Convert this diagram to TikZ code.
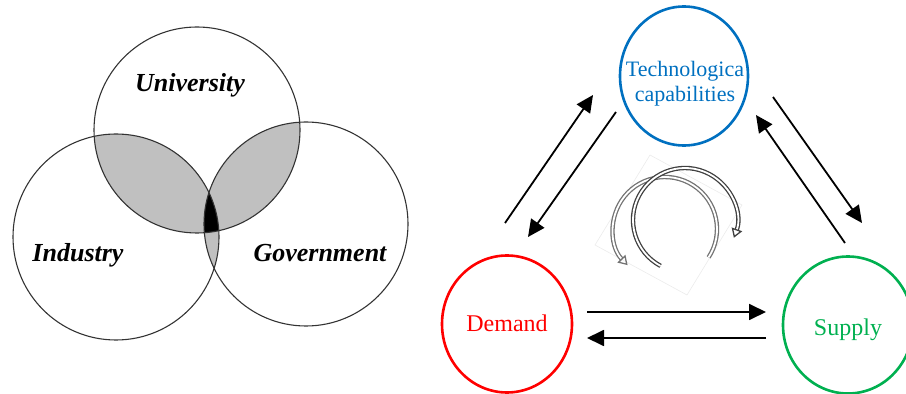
\documentclass[tikz,border=0pt]{standalone}
\usepackage{fontspec}
\setmainfont{Liberation Serif}
\usetikzlibrary{arrows.meta,shapes.geometric}
\definecolor{techblue}{RGB}{0,112,192}
\definecolor{demred}{RGB}{255,0,0}
\definecolor{supgreen}{RGB}{0,176,80}
\definecolor{venngray}{RGB}{192,192,192}
\tikzset{
	venn/.style={draw=black!80,line width=1.1pt},
	sector/.style={ellipse,line width=2.6pt,minimum width=130pt,minimum height=137pt,inner sep=0pt},
	flow/.style={line width=1.8pt,-{Triangle[length=17pt,width=16pt]}},
	turn/.style={double=white,double distance=1.8pt,line width=1.3pt,-{Triangle[open,length=9pt,width=11pt]}},
	actor/.style={font=\fontsize{26}{30}\selectfont\bfseries\itshape,anchor=base}
}
\begin{document}
\begin{tikzpicture}[x=1pt,y=1pt,line join=round]
	\useasboundingbox (0,0) rectangle (906,394);
	\coordinate (U) at (197,264);
	\coordinate (I) at (116,157);
	\coordinate (G) at (306,170);
\begin{scope}
	\clip (U) circle[radius=103pt];
	\fill[venngray] (I) circle[radius=103pt];
	\fill[venngray] (G) circle[radius=102pt];
\end{scope}
\begin{scope}
	\clip (I) circle[radius=103pt];
	\fill[venngray] (G) circle[radius=102pt];
\end{scope}
\begin{scope}
	\clip (U) circle[radius=103pt];
	\clip (I) circle[radius=103pt];
	\fill[black] (G) circle[radius=102pt];
\end{scope}
	\draw[venn] (U) circle[radius=103pt];
	\draw[venn] (I) circle[radius=103pt];
	\draw[venn] (G) circle[radius=102pt];
	\node[actor] (univ) at (190,302) {University};
	\node[actor] (ind) at (78,132) {Industry};
	\node[actor] (gov) at (320,132) {Government};

	\node[sector,draw=techblue,minimum width=128pt,minimum height=139pt] (T) at (684,318) {};
	\node[sector,draw=demred] (D) at (507,70) {};
	\node[sector,draw=supgreen] (S) at (848,69) {};
	\node[text=techblue,font=\fontsize{22}{25}\selectfont,align=center] (tlab) at (685,310) {Technologica\\capabilities};
	\node[text=demred,font=\fontsize{24}{28}\selectfont,anchor=base] (dlab) at (507,62) {Demand};
	\node[text=supgreen,font=\fontsize{24}{28}\selectfont,anchor=base] (slab) at (848,58) {Supply};

	\coordinate (A1) at (505,171);
	\coordinate (A2) at (593,299);
	\coordinate (B1) at (616,282);
	\coordinate (B2) at (528,157);
	\coordinate (C1) at (845,151);
	\coordinate (C2) at (756,279);
	\coordinate (E1) at (773,297);
	\coordinate (E2) at (862,171);
	\coordinate (F1) at (587,82);
	\coordinate (F2) at (766,82);
	\coordinate (H1) at (766,56);
	\coordinate (H2) at (587,56);
	\draw[flow] (A1) -- (A2);
	\draw[flow] (B1) -- (B2);
	\draw[flow] (C1) -- (C2);
	\draw[flow] (E1) -- (E2);
	\draw[flow] (F1) -- (F2);
	\draw[flow] (H1) -- (H2);

	\draw[black!8,line width=0.6pt] (650,239) -- (595,149) -- (687,99) -- (742,189) -- cycle;
	\coordinate (R1) at (665,165);
	\coordinate (R2) at (685,174);
	\draw[turn,draw=black!55] (R1) ++(-33:52pt) arc[start angle=-33,end angle=224,radius=52pt];
	\draw[turn,draw=black!75] (R2) ++(242:52pt) arc[start angle=242,end angle=-20,radius=52pt];
\end{tikzpicture}
\end{document}
